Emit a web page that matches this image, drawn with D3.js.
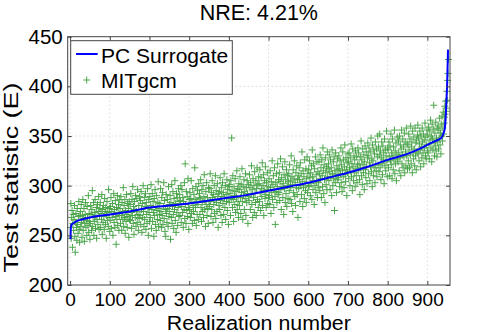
<!DOCTYPE html>
<html>
<head>
<meta charset="utf-8">
<script src="https://cdn.jsdelivr.net/npm/d3@7"></script>
<style>
  body { margin: 0; background: #fff; }
  svg text { font-family: "Liberation Sans", Arial, Helvetica, sans-serif; fill: #000; }
</style>
</head>
<body>
<svg id="chart" width="498" height="332"></svg>
<script>
"use strict";

const title = "NRE: 4.21%";
const xLabel = "Realization number";
const yLabel = "Test statistic (E)";
const xTicks = [0, 100, 200, 300, 400, 500, 600, 700, 800, 900];
const yTicks = [200, 250, 300, 350, 400, 450];
const seriesNames = ["PC Surrogate", "MITgcm"];

// PC surrogate (sorted), read at selected realizations
const surrogateX = [1, 2, 4, 8, 15, 30, 50, 80, 100, 150, 200, 250, 300, 350, 400, 450, 500,
  550, 600, 650, 700, 750, 800, 850, 880, 900, 920, 935, 940, 944, 946, 948, 950, 952];
const surrogateY = [246, 258, 261, 262, 264, 266, 268, 270, 271, 274, 278, 280, 282, 285, 288, 291, 295,
  299, 303, 308, 313, 319, 326, 332, 337, 341, 345, 348, 352, 358, 368, 385, 405, 437];

// MITgcm value for realizations 1..953
const mitgcm = [
  258,282,247,268,275,238,262,271,255,266,280,249,233,263,272,258,245,277,261,252,269,284,256,243,270,
  274,259,281,263,248,270,286,255,267,277,244,262,271,283,258,265,250,279,268,260,290,253,272,264,246,
  262,280,271,255,276,295,259,268,283,250,273,264,286,257,270,278,247,266,281,261,274,289,256,269,277,
  283,258,272,266,291,251,276,263,280,269,256,287,274,261,278,247,270,284,265,273,259,296,268,277,254,
  265,279,288,257,274,268,282,250,271,292,263,276,258,285,269,241,278,266,290,260,273,281,255,270,286,
  277,262,289,270,255,283,274,266,298,259,280,268,286,252,275,264,291,271,258,282,269,277,248,284,266,
  281,265,292,273,257,286,270,299,262,279,251,284,276,268,290,259,274,287,263,296,271,255,280,267,289,
  270,285,261,294,276,253,282,268,300,274,259,288,266,279,292,256,283,271,262,297,277,250,286,273,264,
  289,268,280,301,257,276,292,264,284,273,249,287,270,296,261,279,255,290,275,266,283,304,259,277,271,
  282,265,297,274,258,288,270,293,261,279,303,267,285,254,276,249,291,272,263,286,277,259,299,269,281,
  274,290,246,283,268,301,262,279,294,271,257,287,276,305,265,282,253,292,273,288,260,278,297,269,284,
  291,270,285,300,263,279,296,273,288,258,284,276,303,267,322,281,262,294,275,289,269,307,278,256,286,
  276,293,268,287,305,272,283,262,297,280,274,291,265,318,286,278,299,260,284,271,295,281,266,302,288,
  292,271,287,306,278,264,296,283,274,300,268,289,311,276,285,259,294,281,303,270,288,277,262,298,284,
  279,297,312,284,269,293,276,305,288,263,291,281,300,272,286,310,267,295,283,274,302,289,258,292,280,
  294,276,308,285,270,298,289,263,303,282,293,271,312,287,278,300,266,291,284,306,275,296,288,261,299,
  283,301,292,270,305,287,348,295,278,310,286,264,299,290,281,307,273,294,288,315,276,297,284,268,302,
  296,280,309,288,272,301,293,317,284,266,299,290,306,276,294,287,312,270,298,283,305,292,262,301,289,
  285,311,298,276,303,291,320,281,296,268,307,288,300,273,314,292,283,305,270,297,318,286,301,278,309,
  302,284,316,293,275,308,297,289,323,280,300,311,270,295,305,287,319,291,278,303,296,313,282,299,288,
  307,290,281,315,298,272,304,293,325,286,301,310,278,296,318,289,261,303,294,312,283,299,322,291,306,
  293,313,285,304,327,296,276,308,299,319,288,302,271,311,297,324,283,306,292,316,279,300,310,287,304,
  312,295,321,286,305,298,330,282,309,301,274,316,293,307,325,289,303,280,313,298,320,291,306,268,310,
  297,318,306,284,323,300,312,291,334,304,279,315,298,309,287,326,302,295,317,283,307,329,293,312,300,
  316,299,325,308,290,313,302,320,286,336,309,296,322,305,281,317,300,329,293,311,304,324,288,314,298,
  303,324,312,295,331,307,318,288,326,310,299,338,315,292,321,306,283,328,313,301,319,296,334,309,317,
  322,305,331,314,296,326,309,318,290,336,312,300,324,307,329,275,315,303,333,311,293,320,306,327,316,
  308,330,317,299,325,312,338,303,321,294,315,334,309,326,298,319,341,311,304,328,316,290,323,313,332,
  324,307,333,318,300,328,314,342,309,322,295,337,319,305,330,313,326,299,335,317,310,329,303,321,338,
  315,333,322,306,291,329,318,345,310,326,301,337,321,313,331,296,324,340,316,308,334,319,302,328,343,
  330,312,338,323,305,334,319,348,314,327,299,341,325,310,336,318,332,303,344,321,315,337,309,329,350,
  321,339,314,331,352,318,335,306,328,344,322,311,340,326,333,302,347,320,336,315,330,355,324,309,338,
  336,318,344,329,310,340,325,352,321,333,307,347,330,316,339,326,356,312,335,322,343,305,331,349,327,
  324,345,333,315,350,328,341,310,337,356,322,331,347,318,339,329,353,313,344,334,320,358,330,342,317,
  341,325,352,336,318,347,331,360,322,339,344,313,355,333,327,349,337,320,358,330,343,316,346,334,351,
  361,332,348,325,342,355,336,319,350,339,328,358,344,333,352,322,346,338,363,330,349,327,341,356,335,
  351,333,359,342,327,355,346,366,338,350,324,362,347,336,357,381,343,330,353,340,364,335,348,329,358,
  344,360,337,356,348,368,341,353,332,362,350,370,345,358,374,352,363,369,380,372,385,378,375,395,386,
  406,413,427
];

const svg = d3.select("#chart");

const x = d3.scaleLinear().domain([-6, 957]).range([67.7, 450]);
const y = d3.scaleLinear().domain([200, 450]).range([285, 36.7]);

const plotL = x.range()[0], plotR = x.range()[1];
const plotT = y.range()[1], plotB = y.range()[0];

// grid
svg.append("g")
  .selectAll("line")
  .data(xTicks.filter(d => x(d) > plotL + 1))
  .join("line")
  .attr("x1", d => x(d)).attr("x2", d => x(d))
  .attr("y1", plotT).attr("y2", plotB)
  .attr("stroke", "#c8c8c8").attr("stroke-width", 1)
  .attr("stroke-dasharray", "1,3");

svg.append("g")
  .selectAll("line")
  .data(yTicks.slice(1, -1))
  .join("line")
  .attr("x1", plotL).attr("x2", plotR)
  .attr("y1", d => y(d)).attr("y2", d => y(d))
  .attr("stroke", "#c8c8c8").attr("stroke-width", 1)
  .attr("stroke-dasharray", "1,3");

// scatter (MITgcm)
const pts = mitgcm.map((v, i) => [i + 1, v]);
const arm = 3.5;
svg.append("g")
  .attr("stroke", "#008000")
  .attr("stroke-width", 1)
  .attr("opacity", 0.7)
  .selectAll("path")
  .data(pts)
  .join("path")
  .attr("d", d => {
    const cx = x(d[0]), cy = y(d[1]);
    return `M${cx - arm},${cy}H${cx + arm}M${cx},${cy - arm}V${cy + arm}`;
  });

// surrogate line
const line = d3.line()
  .x(d => x(d[0]))
  .y(d => y(d[1]))
  .curve(d3.curveMonotoneX);

svg.append("path")
  .datum(surrogateX.map((v, i) => [v, surrogateY[i]]))
  .attr("d", line)
  .attr("fill", "none")
  .attr("stroke", "#0000ff")
  .attr("stroke-width", 2);

// axes with inward ticks on all sides
const tickLen = 4;
const axisB = svg.append("g").attr("transform", `translate(0,${plotB})`)
  .call(d3.axisBottom(x).tickValues(xTicks).tickSizeInner(-tickLen).tickSizeOuter(0).tickPadding(8));
const axisT = svg.append("g").attr("transform", `translate(0,${plotT})`)
  .call(d3.axisTop(x).tickValues(xTicks).tickSizeInner(-tickLen).tickSizeOuter(0).tickFormat(""));
const axisL = svg.append("g").attr("transform", `translate(${plotL},0)`)
  .call(d3.axisLeft(y).tickValues(yTicks).tickSizeInner(-tickLen).tickSizeOuter(0).tickPadding(5));
const axisR = svg.append("g").attr("transform", `translate(${plotR},0)`)
  .call(d3.axisRight(y).tickValues(yTicks).tickSizeInner(-tickLen).tickSizeOuter(0).tickFormat(""));

[axisB, axisT, axisL, axisR].forEach(g => {
  g.select(".domain").remove();
  g.selectAll(".tick line").attr("stroke", "#444");
  g.selectAll("text").style("font-size", "19px").attr("fill", "#000")
    .style("font-family", "'Liberation Sans', Arial, sans-serif");
});
axisL.selectAll("text").style("font-size", "20.5px");

svg.append("rect")
  .attr("x", plotL).attr("y", plotT)
  .attr("width", plotR - plotL).attr("height", plotB - plotT)
  .attr("fill", "none").attr("stroke", "#444").attr("stroke-width", 1);

// title + labels
svg.append("text")
  .attr("x", (plotL + plotR) / 2).attr("y", 20)
  .attr("text-anchor", "middle")
  .style("font-size", "21.5px")
  .text(title);

svg.append("text")
  .attr("x", (plotL + plotR) / 2).attr("y", 329.5)
  .attr("text-anchor", "middle")
  .attr("textLength", 184)
  .attr("lengthAdjust", "spacingAndGlyphs")
  .style("font-size", "20px")
  .text(xLabel);

svg.append("text")
  .attr("transform", "translate(17.5,177.5) rotate(-90)")
  .attr("text-anchor", "middle")
  .attr("textLength", 190)
  .attr("lengthAdjust", "spacingAndGlyphs")
  .style("font-size", "19.5px")
  .text(yLabel);

// legend
const legend = svg.append("g");
legend.append("rect")
  .attr("x", 70.7).attr("y", 40.7)
  .attr("width", 161.6).attr("height", 53.6)
  .attr("fill", "#fff").attr("stroke", "#444").attr("stroke-width", 1);

legend.append("line")
  .attr("x1", 76).attr("x2", 97.7).attr("y1", 54).attr("y2", 54)
  .attr("stroke", "#0000ff").attr("stroke-width", 2);
legend.append("text").attr("x", 101).attr("y", 63.3)
  .style("font-size", "21px").text(seriesNames[0]);

legend.append("path")
  .attr("d", `M${86.7 - arm},80H${86.7 + arm}M86.7,${80 - arm}V${80 + arm}`)
  .attr("stroke", "#008000").attr("stroke-width", 1).attr("opacity", 0.7);
legend.append("text").attr("x", 101).attr("y", 88)
  .style("font-size", "21px").text(seriesNames[1]);
</script>
</body>
</html>
